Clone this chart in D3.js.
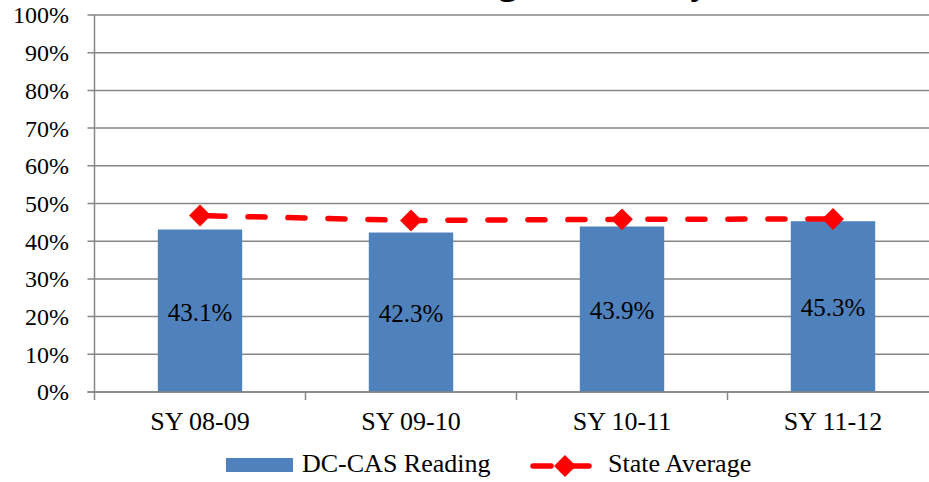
<!DOCTYPE html>
<html>
<head>
<meta charset="utf-8">
<script src="https://cdn.jsdelivr.net/npm/d3@7"></script>
<style>
  html, body { margin: 0; padding: 0; background: #fff; }
  svg { display: block; }
  svg text { font-family: "Liberation Serif", "DejaVu Serif", serif !important; fill: #000; }
</style>
</head>
<body>
<svg id="chart" width="929" height="482" font-family="Liberation Serif, serif"></svg>
<script>
const categories = ["SY 08-09", "SY 09-10", "SY 10-11", "SY 11-12"];
const readingValues = [43.1, 42.3, 43.9, 45.3];
const stateAverage = [46.8, 45.5, 45.8, 45.9];
const yTicks = [0, 10, 20, 30, 40, 50, 60, 70, 80, 90, 100];
const titleText = "DC-CAS Reading Proficiency";
const seriesNames = ["DC-CAS Reading", "State Average"];

(function () {
const FONT = "Liberation Serif, serif";
const svg = d3.select("#chart");
const W = 929, H = 482;
const pLeft = 94.5, pRight = 938.5, pTop = 15, pBottom = 392;

const x = d3.scaleBand().domain(categories).range([pLeft, pRight]).paddingInner(0.6).paddingOuter(0.3);
const xb = d3.scaleBand().domain(categories).range([pLeft, pRight]);
const y = d3.scaleLinear().domain([0, 100]).range([pBottom, pTop]);

const gridColor = "#868686";

// Title (mostly above the visible area, as in the reference)
svg.append("text")
  .attr("x", 229).attr("y", -6)
  .attr("font-family", FONT)
  .attr("font-size", 38).attr("font-weight", "bold")
  .text(titleText);

// Gridlines
svg.append("g").selectAll("line").data(yTicks).join("line")
  .attr("x1", pLeft - 7).attr("x2", W)
  .attr("y1", d => y(d)).attr("y2", d => y(d))
  .attr("stroke", gridColor).attr("stroke-width", 1.5);

// Y axis line
svg.append("line")
  .attr("x1", pLeft).attr("x2", pLeft).attr("y1", pTop).attr("y2", pBottom + 8)
  .attr("stroke", gridColor).attr("stroke-width", 1.5);

// Y labels
svg.append("g").selectAll("text").data(yTicks).join("text")
  .attr("x", 69).attr("y", d => y(d)).attr("dy", "0.35em")
  .attr("font-family", FONT)
  .attr("text-anchor", "end").attr("font-size", 24)
  .text(d => d + "%");

// X axis category ticks
svg.append("g").selectAll("line").data(categories.slice(1)).join("line")
  .attr("x1", d => xb(d)).attr("x2", d => xb(d))
  .attr("y1", pBottom).attr("y2", pBottom + 8)
  .attr("stroke", gridColor).attr("stroke-width", 1.5);

// Bars
svg.append("g").selectAll("rect").data(readingValues).join("rect")
  .attr("x", (d, i) => x(categories[i]))
  .attr("width", x.bandwidth())
  .attr("y", d => y(d))
  .attr("height", d => pBottom - y(d))
  .attr("fill", "#4F81BD");

// X axis baseline
svg.append("line")
  .attr("x1", pLeft - 7).attr("x2", W).attr("y1", pBottom).attr("y2", pBottom)
  .attr("stroke", gridColor).attr("stroke-width", 1.5);

// Bar labels
svg.append("g").selectAll("text").data(readingValues).join("text")
  .attr("x", (d, i) => x(categories[i]) + x.bandwidth() / 2)
  .attr("y", d => (y(d) + pBottom) / 2 + 1)
  .attr("dy", "0.35em")
  .attr("font-family", FONT)
  .attr("text-anchor", "middle").attr("font-size", 25)
  .text(d => d.toFixed(1) + "%");

// X labels
svg.append("g").selectAll("text").data(categories).join("text")
  .attr("x", d => xb(d) + xb.bandwidth() / 2).attr("y", 430)
  .attr("font-family", FONT)
  .attr("text-anchor", "middle").attr("font-size", 26)
  .text(d => d);

// State average line
const cx = (d, i) => xb(categories[i]) + xb.bandwidth() / 2;
const line = d3.line().x(cx).y(d => y(d));
svg.append("path").datum(stateAverage)
  .attr("d", line)
  .attr("fill", "none").attr("stroke", "#FF0000").attr("stroke-width", 5.5)
  .attr("stroke-dasharray", "17 23").attr("stroke-linecap", "round")
  .attr("stroke-dashoffset", -8);

svg.append("g").selectAll("path").data(stateAverage).join("path")
  .attr("d", d3.symbol().type(d3.symbolSquare).size(240))
  .attr("transform", (d, i) => `translate(${cx(d, i)},${y(d)}) rotate(45)`)
  .attr("fill", "#FF0000");

// Legend
const lg = svg.append("g");
lg.append("rect").attr("x", 226).attr("y", 458).attr("width", 67).attr("height", 14).attr("fill", "#4F81BD");
lg.append("text").attr("x", 302).attr("y", 472).attr("font-family", FONT).attr("font-size", 26).text(seriesNames[0]);
lg.append("line").attr("x1", 533).attr("x2", 589).attr("y1", 466).attr("y2", 466)
  .attr("stroke", "#FF0000").attr("stroke-width", 5.5).attr("stroke-linecap", "round")
  .attr("stroke-dasharray", "18 20");
lg.append("path").attr("transform", "translate(565,466) rotate(45)")
  .attr("d", d3.symbol().type(d3.symbolSquare).size(240)).attr("fill", "#FF0000");
lg.append("text").attr("x", 608).attr("y", 472).attr("font-family", FONT).attr("font-size", 26).text(seriesNames[1]);
})();
</script>
</body>
</html>
